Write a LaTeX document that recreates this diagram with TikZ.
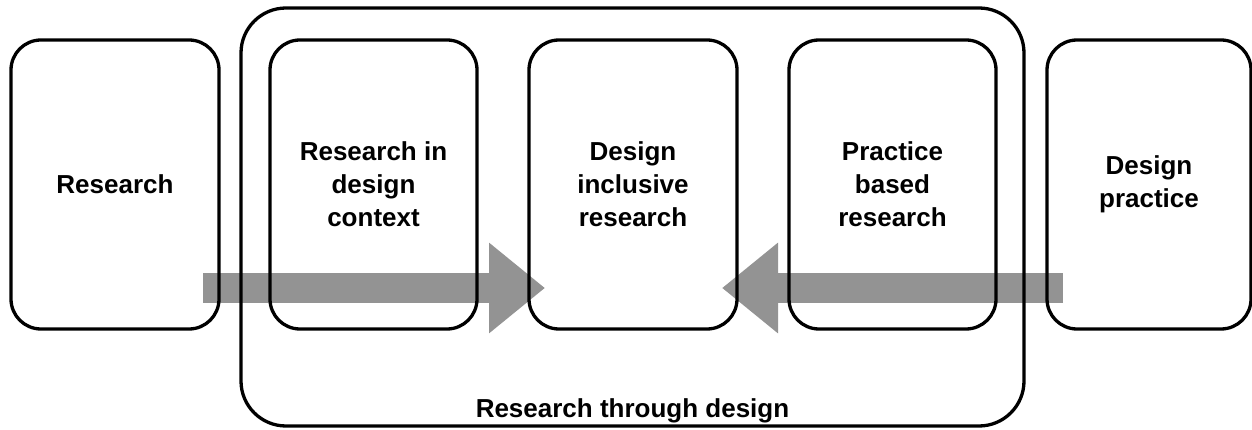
\documentclass[tikz,border=0pt]{standalone}
\usepackage{fontspec}
\newfontfamily\lblfont{Liberation Sans}
\usetikzlibrary{arrows.meta}
\definecolor{arrowgray}{HTML}{939393}
\begin{document}
\begin{tikzpicture}[x=1pt,y=-1pt,
  card/.style={draw=black, line width=3.3pt, rounded corners=30pt, inner sep=0pt, outer sep=0pt,
    minimum width=208pt, minimum height=289pt, align=center,
    font=\lblfont\bfseries\fontsize{26}{33}\selectfont},
  ghost/.style={inner sep=0pt, outer sep=0pt, minimum width=208pt, minimum height=289pt},
  frame/.style={draw=black, line width=3.3pt, rounded corners=45pt, inner sep=0pt, outer sep=0pt,
    minimum width=783pt, minimum height=418pt},
  lbl/.style={font=\lblfont\bfseries\fontsize{26}{33}\selectfont, inner sep=0pt},
  bigarrow/.style={draw=arrowgray, line width=30pt,
    -{Triangle[length=56pt, width=87pt, fill=arrowgray, color=arrowgray]}}]
\useasboundingbox (0,0) rectangle (1252,430);
\coordinate (cR) at (115,184.5);
\coordinate (c1) at (373.5,184.5);
\coordinate (c2) at (633,184.5);
\coordinate (c3) at (892.5,184.5);
\coordinate (c4) at (1149,184.5);
% placeholders giving anchors for the arrows (cards are drawn on top later)
\node[ghost] (R0) at (cR) {};
\node[ghost] (B20) at (c2) {};
\node[ghost, minimum width=204pt] (B40) at (c4) {};
% arrows
\draw[bigarrow] ([xshift=-16pt,yshift=-103.5pt]R0.east) -- ([xshift=16pt,yshift=-103.5pt]B20.west);
\draw[bigarrow] ([xshift=16pt,yshift=-103.5pt]B40.west) -- ([xshift=-15pt,yshift=-103.5pt]B20.east);
% frame
\node[frame] (RTD) at (632.5,217) {};
\node[lbl, anchor=base] (RTDlabel) at (632.5,417) {Research through design};
% cards
\node[card] (R) at (cR) {Research};
\node[card, minimum width=207pt] (B1) at (c1) {Research in\\design\\context};
\node[card] (B2) at (c2) {Design\\inclusive\\research};
\node[card, minimum width=207pt] (B3) at (c3) {Practice\\based\\research};
\node[card, minimum width=204pt] (B4) at (c4) {Design\\practice};
\end{tikzpicture}
\end{document}
